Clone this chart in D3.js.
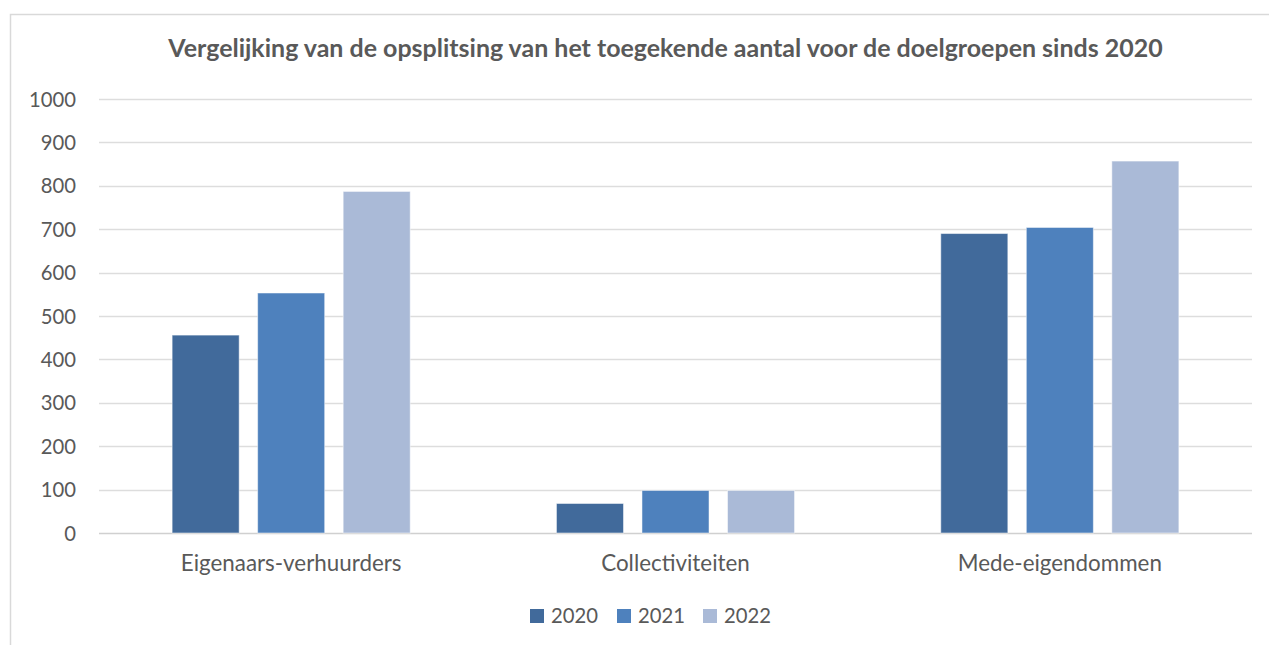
<!DOCTYPE html>
<html><head><meta charset="utf-8">
<script src="https://cdn.jsdelivr.net/npm/d3@7"></script>
<style>body{margin:0;background:#fff}svg{display:block}text{font-family:Lato,"Open Sans",sans-serif;fill:#595959}</style>
</head><body><svg id="c" width="1269" height="645"></svg>
<script>
const categories = ["Eigenaars-verhuurders","Collectiviteiten","Mede-eigendommen"];
const years = ["2020","2021","2022"];
const v2020 = [456, 68, 690];
const v2021 = [553, 98, 704];
const v2022 = [787, 98, 857];
const yTicks = [0,100,200,300,400,500,600,700,800,900,1000];
const title = "Vergelijking van de opsplitsing van het toegekende aantal voor de doelgroepen sinds 2020";
const colors = ["#416A9B","#4E81BD","#AABAD7"];
const series = [v2020, v2021, v2022];

const svg = d3.select("#c");
svg.append("rect").attr("x",10.5).attr("y",14.5).attr("width",1300).attr("height",700)
  .attr("fill","#fff").attr("stroke","#D9D9D9").attr("stroke-width",1.5);

const L=99, R=1252, T=99, B=533;
const y = d3.scaleLinear().domain([0,1000]).range([B,T]);
const x0 = d3.scaleBand().domain(categories).range([L,R]).padding(0);
const x1 = d3.scaleBand().domain(years).range([0,x0.bandwidth()]).paddingInner(0.216).paddingOuter(0.855);

function fit(sel, target, base){
  sel.attr("font-size", base);
  const w = sel.node().getComputedTextLength();
  sel.attr("font-size", base*target/w);
  return base*target/w;
}

// gridlines
svg.append("g").selectAll("line").data(yTicks).join("line")
  .attr("x1",L).attr("x2",R).attr("y1",d=>Math.round(y(d))+0.5).attr("y2",d=>Math.round(y(d))+0.5)
  .attr("stroke",d=>d===0?"#D0D0D0":"#DDDDDD").attr("stroke-width",1.5);

// y axis labels
const ya = svg.append("g").attr("class","yaxis").attr("transform",`translate(76,0)`)
  .call(d3.axisLeft(y).tickValues(yTicks).tickFormat(d3.format("d")).tickSize(0).tickPadding(0));
ya.select(".domain").remove();
ya.selectAll("text").attr("font-family","Lato").attr("fill","#595959").attr("dy","0.35em");
const t1000 = ya.selectAll("text").filter(d=>d===1000);
const fsY = fit(t1000, 47, 20);
ya.selectAll("text").attr("font-size",fsY);

// bars
const g = svg.append("g");
years.forEach((yr,i)=>{
  g.append("g").selectAll("rect").data(categories).join("rect")
    .attr("x",c=>x0(c)+x1(yr)).attr("width",x1.bandwidth())
    .attr("y",(c,j)=>y(series[i][j])).attr("height",(c,j)=>B-y(series[i][j]))
    .attr("fill",colors[i]).attr("stroke","rgba(255,255,255,0.5)").attr("stroke-width",1);
});

// category labels
const xa = svg.append("g").attr("transform",`translate(0,${B})`)
  .call(d3.axisBottom(x0).tickSize(0).tickPadding(0));
xa.select(".domain").remove();
xa.selectAll("text").attr("font-family","Lato").attr("fill","#595959").attr("dy","0").attr("y",38);
const fsX = fit(xa.selectAll("text").filter(d=>d===categories[0]), 221, 20);
xa.selectAll("text").attr("font-size",fsX);

// title
const tt = svg.append("text").attr("x",(168+1163)/2).attr("y",57).attr("text-anchor","middle")
  .attr("font-weight","bold").text(title);
fit(tt, 995, 20);

// legend
const legX = [530,617,703];
const lg = svg.append("g");
years.forEach((yr,i)=>{
  lg.append("rect").attr("x",legX[i]).attr("y",609).attr("width",14).attr("height",14).attr("fill",colors[i]);
  lg.append("text").attr("x",legX[i]+21).attr("y",623).attr("font-size",fsY).text(yr);
});
</script></body></html>
